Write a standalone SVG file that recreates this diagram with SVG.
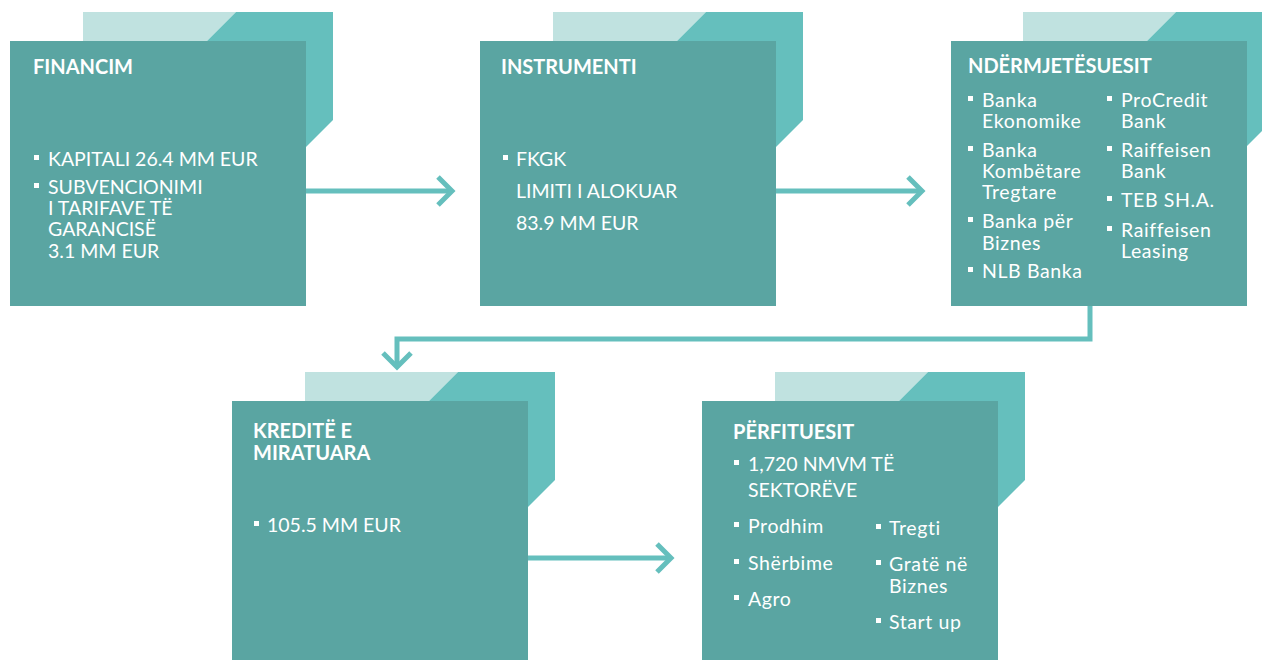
<svg xmlns="http://www.w3.org/2000/svg" width="1262" height="660" viewBox="0 0 1262 660">
<defs>
<style>
.lt{fill:#c0e2e0}
.dk{fill:#65bfbd}
.main{fill:#5aa5a2}
.t{font-family:Lato,"Open Sans","Liberation Sans",sans-serif;fill:#ffffff}
.h{font-size:20px;font-weight:700}
.b{font-size:19.5px;font-weight:400}
.m{font-size:19.5px;font-weight:400;letter-spacing:0.6px}
.bl{fill:#ffffff}
.con{fill:none;stroke:#65bfbd;stroke-width:5}
</style>
<g id="deco">
<polygon class="lt" points="0,0 153,0 124,29 0,29"/>
<polygon class="dk" points="153,0 250,0 250,108 223,135 223,29 124,29"/>
</g>
</defs>
<rect width="1262" height="660" fill="#ffffff"/>

<g id="connectors">
<path class="con" d="M306,191 H452"/>
<path class="con" d="M438,177 L452,191 L438,205"/>
<path class="con" d="M776,191 H922"/>
<path class="con" d="M908,177 L922,191 L908,205"/>
<path class="con" d="M1090,306 V339 H397 V367"/>
<path class="con" d="M383,353 L397,367 L411,353"/>
<path class="con" d="M528,558 H671"/>
<path class="con" d="M657,544 L671,558 L657,572"/>
</g>

<g id="financim">
<use href="#deco" x="83" y="12"/>
<rect class="main" x="10" y="41" width="296" height="265"/>
<text class="t h" x="33" y="74">FINANCIM</text>
<rect class="bl" x="34" y="155" width="5" height="5"/>
<text class="t b" x="48" y="166">KAPITALI 26.4 MM EUR</text>
<rect class="bl" x="34" y="183" width="5" height="5"/>
<text class="t b" x="48" y="194">SUBVENCIONIMI<tspan x="48" y="215">I TARIFAVE TË</tspan><tspan x="48" y="236">GARANCISË</tspan><tspan x="48" y="258">3.1 MM EUR</tspan></text>
</g>

<g id="instrumenti">
<use href="#deco" x="553" y="12"/>
<rect class="main" x="480" y="41" width="296" height="265"/>
<text class="t h" x="501" y="74">INSTRUMENTI</text>
<rect class="bl" x="503" y="155" width="5" height="5"/>
<text class="t b" x="516" y="166">FKGK</text>
<text class="t b" x="516" y="198">LIMITI I ALOKUAR</text>
<text class="t b" x="516" y="230">83.9 MM EUR</text>
</g>

<g id="ndermjetesuesit">
<use href="#deco" x="1023" y="12"/>
<rect class="main" x="951" y="41" width="296" height="265"/>
<text class="t h" x="968" y="73">NDËRMJETËSUESIT</text>
<rect class="bl" x="968" y="96" width="5" height="5"/>
<text class="t m" x="982" y="107">Banka<tspan x="982" y="128">Ekonomike</tspan></text>
<rect class="bl" x="968" y="146" width="5" height="5"/>
<text class="t m" x="982" y="157">Banka<tspan x="982" y="178">Kombëtare</tspan><tspan x="982" y="199">Tregtare</tspan></text>
<rect class="bl" x="968" y="217" width="5" height="5"/>
<text class="t m" x="982" y="228">Banka për<tspan x="982" y="250">Biznes</tspan></text>
<rect class="bl" x="968" y="267" width="5" height="5"/>
<text class="t m" x="982" y="278">NLB Banka</text>
<rect class="bl" x="1107" y="96" width="5" height="5"/>
<text class="t m" x="1121" y="107">ProCredit<tspan x="1121" y="128">Bank</tspan></text>
<rect class="bl" x="1107" y="146" width="5" height="5"/>
<text class="t m" x="1121" y="157">Raiffeisen<tspan x="1121" y="178">Bank</tspan></text>
<rect class="bl" x="1107" y="196" width="5" height="5"/>
<text class="t m" x="1121" y="207">TEB SH.A.</text>
<rect class="bl" x="1107" y="226" width="5" height="5"/>
<text class="t m" x="1121" y="237">Raiffeisen<tspan x="1121" y="258">Leasing</tspan></text>
</g>

<g id="kredite">
<use href="#deco" x="305" y="372"/>
<rect class="main" x="232" y="401" width="296" height="265"/>
<text class="t h" x="253" y="438">KREDITË E<tspan x="253" y="460">MIRATUARA</tspan></text>
<rect class="bl" x="254" y="521" width="5" height="5"/>
<text class="t b" x="267" y="532">105.5 MM EUR</text>
</g>

<g id="perfituesit">
<use href="#deco" x="775" y="372"/>
<rect class="main" x="702" y="401" width="296" height="265"/>
<text class="t h" x="733" y="439">PËRFITUESIT</text>
<rect class="bl" x="734" y="460" width="5" height="5"/>
<text class="t b" x="748" y="471">1,720 NMVM TË<tspan x="748" y="497">SEKTORËVE</tspan></text>
<rect class="bl" x="734" y="522" width="5" height="5"/>
<text class="t m" x="748" y="533">Prodhim</text>
<rect class="bl" x="734" y="559" width="5" height="5"/>
<text class="t m" x="748" y="570">Shërbime</text>
<rect class="bl" x="734" y="595" width="5" height="5"/>
<text class="t m" x="748" y="606">Agro</text>
<rect class="bl" x="876" y="524" width="5" height="5"/>
<text class="t m" x="889" y="535">Tregti</text>
<rect class="bl" x="876" y="560" width="5" height="5"/>
<text class="t m" x="889" y="571">Gratë në<tspan x="889" y="593">Biznes</tspan></text>
<rect class="bl" x="876" y="618" width="5" height="5"/>
<text class="t m" x="889" y="629">Start up</text>
</g>
</svg>
